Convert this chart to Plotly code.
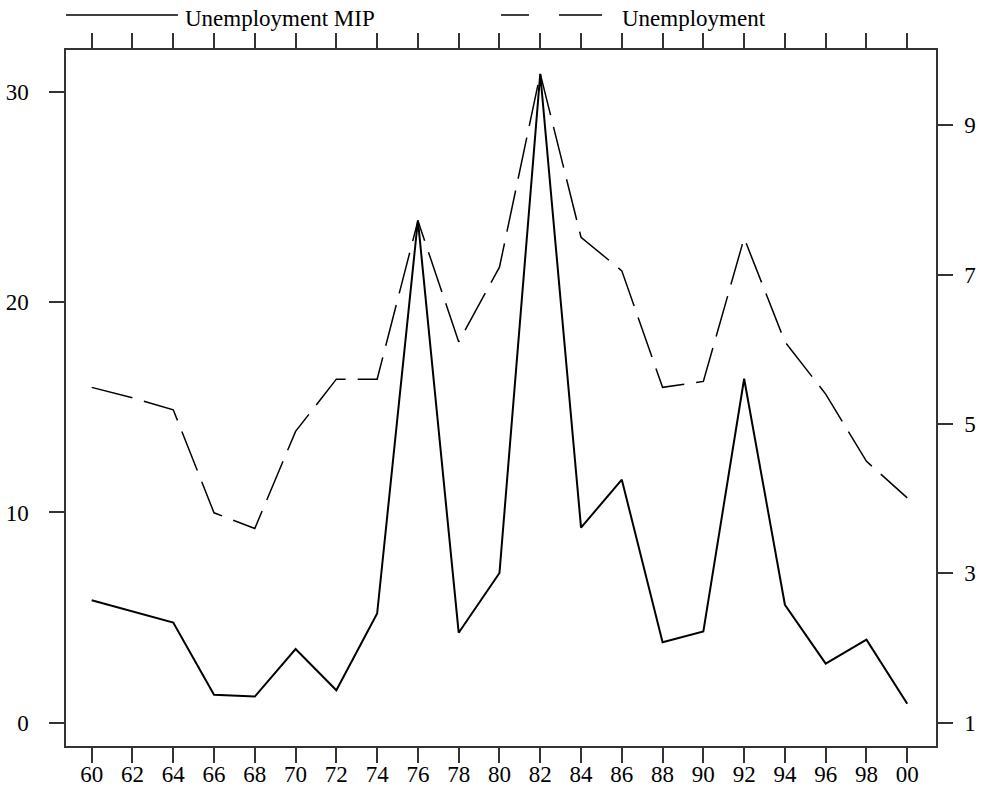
import plotly.graph_objects as go

years = list(range(1960, 2001, 2))
year_labels = ["60", "62", "64", "66", "68", "70", "72", "74", "76", "78",
               "80", "82", "84", "86", "88", "90", "92", "94", "96", "98", "00"]
mip = [5.82, 5.30, 4.76, 1.33, 1.24, 3.50, 1.54, 5.19, 23.90, 4.28, 7.12,
       30.87, 9.28, 11.56, 3.83, 4.34, 16.36, 5.61, 2.81, 3.95, 0.90]
unemployment = [5.49, 5.35, 5.19, 3.81, 3.60, 4.90, 5.60, 5.60, 7.72, 6.10, 7.10,
                9.69, 7.50, 7.05, 5.49, 5.57, 7.49, 6.10, 5.40, 4.50, 4.01]
left_ticks = [0, 10, 20, 30]
right_ticks = [1, 3, 5, 7, 9]
series_names = ["Unemployment MIP", "Unemployment"]

FONT = "Liberation Serif, Times New Roman, serif"
AXC = "#333333"

fig = go.Figure()
fig.add_trace(go.Scatter(x=years, y=mip, mode="lines", name=series_names[0],
                         line=dict(color="black", width=2), yaxis="y",
                         showlegend=False))
fig.add_trace(go.Scatter(x=years, y=unemployment, mode="lines", name=series_names[1],
                         line=dict(color="black", width=1.5, dash="42px,12px"),
                         yaxis="y2", showlegend=False))

common = dict(showgrid=False, zeroline=False, showline=True, linecolor=AXC,
              linewidth=1.5, ticks="outside", ticklen=15, tickwidth=1.5,
              tickcolor=AXC, automargin=False,
              tickfont=dict(family=FONT, size=23, color="black"))

fig.update_layout(
    template="none",
    width=983, height=788,
    margin=dict(l=66, r=47, t=50, b=42),
    paper_bgcolor="white", plot_bgcolor="white",
    xaxis=dict(range=[1958.74, 2001.41], tickvals=years, ticktext=year_labels,
               mirror="ticks", ticklabelstandoff=-8, **common),
    yaxis=dict(range=[-1.11, 32.0], tickvals=left_ticks, ticklabelstandoff=16,
               **common),
    yaxis2=dict(range=[0.687, 10.008], tickvals=right_ticks, overlaying="y",
                side="right", ticklabelstandoff=7, **common),
)

# legend drawn at top
fig.add_shape(type="line", xref="paper", yref="paper", x0=0.0, x1=0.1287,
              y0=1.0503, y1=1.0503, line=dict(color="black", width=1.5))
fig.add_shape(type="line", xref="paper", yref="paper", x0=0.5, x1=0.6161,
              y0=1.0503, y1=1.0503,
              line=dict(color="black", width=1.5, dash="28px,30px,43px"))
fig.add_annotation(text=series_names[0], xref="paper", yref="paper", x=0.1345,
                   y=1.0453, xanchor="left", yanchor="middle", showarrow=False,
                   font=dict(family=FONT, size=23, color="black"))
fig.add_annotation(text=series_names[1], xref="paper", yref="paper", x=0.6368,
                   y=1.0453, xanchor="left", yanchor="middle", showarrow=False,
                   font=dict(family=FONT, size=23, color="black"))

fig.write_html("out.html")
